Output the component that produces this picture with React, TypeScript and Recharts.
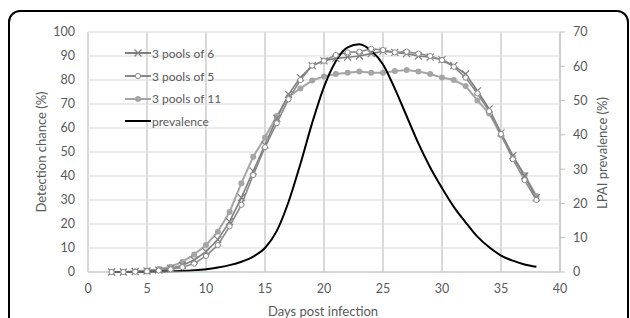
import * as React from "react";
import { CartesianGrid, ComposedChart, Line, ReferenceLine, XAxis, YAxis } from "recharts";

const days = [2, 3, 4, 5, 6, 7, 8, 9, 10, 11, 12, 13, 14, 15, 16, 17, 18, 19, 20, 21, 22, 23, 24, 25, 26, 27, 28, 29, 30, 31, 32, 33, 34, 35, 36, 37, 38];

const poolsOf6 = [0, 0, 0.2, 0.4, 0.8, 1.5, 2.8, 5, 8.5, 13.5, 21, 31, 42, 53, 64, 74, 81, 86, 88, 89, 89.5, 90, 91, 92, 91.5, 91, 90, 89.5, 88.5, 86, 82.5, 75.5, 68, 58, 48.5, 40, 31];
const poolsOf5 = [0, 0, 0.1, 0.3, 0.6, 1.1, 2, 3.5, 6.7, 11.2, 19, 28, 40.4, 52, 62, 72, 80, 86, 88, 90.4, 91.5, 91.8, 93, 92.5, 91.5, 91.8, 91, 90, 88.3, 85.5, 81, 74.4, 67, 57.5, 47, 38.3, 30];
const poolsOf11 = [0, 0, 0.3, 0.6, 1.2, 2.2, 4.2, 7.3, 11.2, 16.8, 25, 37, 48, 56, 65, 73, 76.5, 79.8, 81.5, 82.5, 83, 83.5, 83, 83, 83.7, 84.2, 83.5, 82.5, 81, 80, 77.5, 71.5, 66, 57, 48, 40.4, 31.7];
const prevalence = [0, 0, 0, 0.05, 0.1, 0.2, 0.3, 0.5, 0.8, 1.3, 2, 3, 4.5, 7, 12, 20.5, 31.5, 43.5, 54, 61.5, 65.5, 66.4, 64.5, 60.5, 53.5, 45.5, 37.5, 30.5, 24.5, 19, 14.5, 10.3, 7.2, 4.8, 3.3, 2.2, 1.5];

const xTicks = [0, 5, 10, 15, 20, 25, 30, 35, 40];
const leftTicks = [0, 10, 20, 30, 40, 50, 60, 70, 80, 90, 100];
const rightTicks = [0, 10, 20, 30, 40, 50, 60, 70];

const data = days.map((day, i) => ({
  day,
  pools6: poolsOf6[i],
  pools5: poolsOf5[i],
  pools11: poolsOf11[i],
  prevalence: prevalence[i],
}));

const FONT = "Lato, 'Open Sans', sans-serif";
const TEXT = "#595959";
const GRID = "#d9d9d9";

function CrossDot(props: any) {
  const { cx, cy, index } = props;
  if (cx == null || cy == null) return <g key={`x-${index}`} />;
  const s = 3.5;
  return (
    <path
      key={`x-${index}`}
      d={`M${cx - s},${cy - s}L${cx + s},${cy + s}M${cx - s},${cy + s}L${cx + s},${cy - s}`}
      stroke="#7f7f7f"
      strokeWidth={1.2}
      fill="none"
    />
  );
}

const legendRows = [
  { name: "3 pools of 6", color: "#7f7f7f", marker: "x" },
  { name: "3 pools of 5", color: "#8a8a8a", marker: "open" },
  { name: "3 pools of 11", color: "#a5a5a5", marker: "filled" },
  { name: "prevalence", color: "#000000", marker: "none" },
];

function LegendBox() {
  return (
    <div style={{ position: "absolute", left: 124, top: 42, fontFamily: FONT, fontSize: 12, color: TEXT }}>
      {legendRows.map((row) => (
        <div key={row.name} style={{ display: "flex", alignItems: "center", height: 22.7 }}>
          <svg width={27} height={12} style={{ marginRight: 1 }}>
            <line x1={1} y1={6} x2={27} y2={6} stroke={row.color} strokeWidth={2} />
            {row.marker === "x" && <path d="M10.5,2.5L17.5,9.5M10.5,9.5L17.5,2.5" stroke={row.color} strokeWidth={1.2} />}
            {row.marker === "open" && <circle cx={14} cy={6} r={2.6} fill="#fff" stroke={row.color} strokeWidth={1} />}
            {row.marker === "filled" && <circle cx={14} cy={6} r={3} fill={row.color} />}
          </svg>
          <span>{row.name}</span>
        </div>
      ))}
    </div>
  );
}

export default function App() {
  return (
    <div style={{ position: "fixed", left: 0, top: 0, width: 630, height: 318, overflow: "hidden", background: "#fff" }}>
      <div
        style={{
          position: "absolute",
          left: 8,
          top: 10,
          width: 617,
          height: 400,
          border: "2px solid #000",
          borderRadius: 12,
        }}
      />
      <div style={{ position: "absolute", left: 0, top: 0 }}>
        <ComposedChart width={630} height={318} data={data} margin={{ top: 32, right: 30, bottom: 16, left: 48 }}>
          <CartesianGrid yAxisId="left" stroke={GRID} strokeWidth={1} vertical={false} />
          <XAxis
            dataKey="day"
            type="number"
            domain={[0, 40]}
            ticks={xTicks}
            height={30}
            axisLine={{ stroke: "#bfbfbf" }}
            tickLine={false}
            tickSize={0}
            tickMargin={12}
            tick={{ fill: TEXT, fontSize: 12.5, fontFamily: FONT }}
          />
          <YAxis
            yAxisId="left"
            domain={[0, 100]}
            ticks={leftTicks}
            width={40}
            axisLine={false}
            tickLine={false}
            tickSize={0}
            tickMargin={13}
            tick={{ fill: TEXT, fontSize: 12.5, fontFamily: FONT }}
          />
          <YAxis
            yAxisId="right"
            orientation="right"
            domain={[0, 70]}
            ticks={rightTicks}
            width={40}
            axisLine={{ stroke: "#bfbfbf" }}
            tickLine={{ stroke: "#bfbfbf" }}
            tickSize={5}
            tickMargin={8}
            tick={{ fill: TEXT, fontSize: 12.5, fontFamily: FONT, textAnchor: "start" }}
          />
          {xTicks.map((t) => (
            <ReferenceLine
              key={`v-${t}`}
              x={t}
              yAxisId="left"
              stroke={GRID}
              strokeWidth={1.3}
              shapeRendering="crispEdges"
            />
          ))}
          <Line
            yAxisId="left"
            dataKey="pools11"
            name="3 pools of 11"
            type="linear"
            stroke="#a5a5a5"
            strokeWidth={2}
            dot={{ r: 3, fill: "#a5a5a5", stroke: "#a5a5a5", strokeWidth: 0 }}
            isAnimationActive={false}
          />
          <Line
            yAxisId="left"
            dataKey="pools6"
            name="3 pools of 6"
            type="linear"
            stroke="#7f7f7f"
            strokeWidth={1.6}
            dot={CrossDot}
            isAnimationActive={false}
          />
          <Line
            yAxisId="left"
            dataKey="pools5"
            name="3 pools of 5"
            type="linear"
            stroke="#8a8a8a"
            strokeWidth={1.6}
            dot={{ r: 2.6, fill: "#ffffff", stroke: "#8a8a8a", strokeWidth: 1 }}
            isAnimationActive={false}
          />
          <Line
            yAxisId="right"
            dataKey="prevalence"
            name="prevalence"
            type="monotone"
            stroke="#000000"
            strokeWidth={2}
            dot={false}
            isAnimationActive={false}
          />
        </ComposedChart>
      </div>
      <LegendBox />
      <div
        style={{
          position: "absolute",
          left: 41,
          top: 152,
          transform: "translate(-50%, -50%) rotate(-90deg)",
          whiteSpace: "nowrap",
          fontFamily: FONT,
          fontSize: 13,
          color: TEXT,
        }}
      >
        Detection chance (%)
      </div>
      <div
        style={{
          position: "absolute",
          left: 602,
          top: 153,
          transform: "translate(-50%, -50%) rotate(-90deg)",
          whiteSpace: "nowrap",
          fontFamily: FONT,
          fontSize: 13,
          color: TEXT,
        }}
      >
        LPAI prevalence (%)
      </div>
      <div
        style={{
          position: "absolute",
          left: 323,
          top: 311,
          transform: "translate(-50%, -50%)",
          whiteSpace: "nowrap",
          fontFamily: FONT,
          fontSize: 13,
          color: TEXT,
        }}
      >
        Days post infection
      </div>
    </div>
  );
}
